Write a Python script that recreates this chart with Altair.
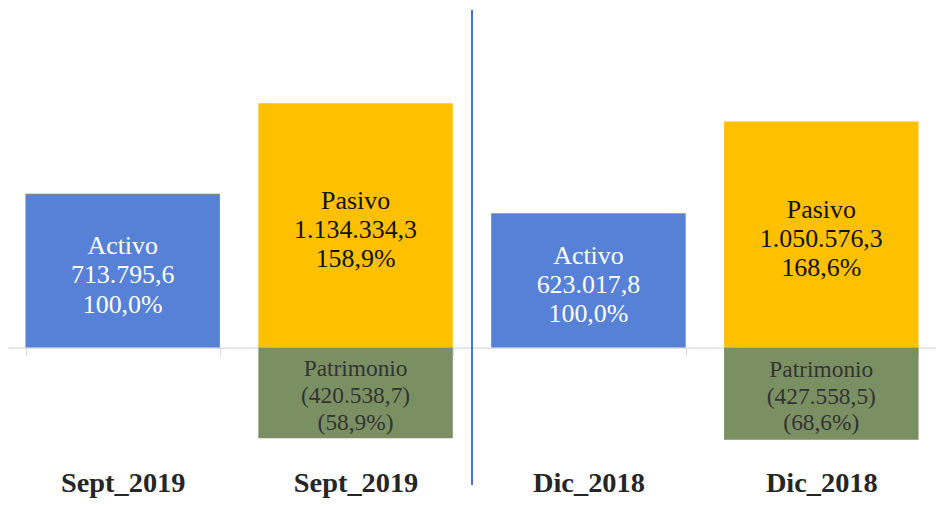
import json
import altair as alt
import pandas as pd

# ---- data ----
slot_labels = ["Sept_2019", "Sept_2019", "Dic_2018", "Dic_2018"]
slots = [0, 1, 1, 2, 3, 3]
series = ["Activo", "Pasivo", "Patrimonio", "Activo", "Pasivo", "Patrimonio"]
values = [713795.6, 1134334.3, -420538.7, 623017.8, 1050576.3, -427558.5]
pcts = [100.0, 158.9, -58.9, 100.0, 168.6, -68.6]
# thin edge seen on top of the Activo bars
edge_slots = [0, 2]
edge_values = [713795.6, 623017.8]
edge_colors = ["#c2a326", "#8f9c80"]
edge_widths = [2.5, 1.5]

series_names = ["Activo", "Pasivo", "Patrimonio"]
series_colors = ["#5781d6", "#ffc000", "#7a9062"]
text_colors = {"Activo": "#ffffff", "Pasivo": "#111111", "Patrimonio": "#333333"}


def es_num(v, dec=1):
    s = f"{abs(v):,.{dec}f}".replace(",", "X").replace(".", ",").replace("X", ".")
    return f"({s})" if v < 0 else s


rows = []
for sl, se, v, p in zip(slots, series, values, pcts):
    pct = es_num(p) + "%"
    if p < 0:
        pct = "(" + es_num(-p) + "%)"
    rows.append({
        "slot": sl,
        "serie": se,
        "valor": v,
        "mid": v / 2,
        "texto": f"{se}\n{es_num(v)}\n{pct}",
        "tcolor": text_colors[se],
    })
df = pd.DataFrame(rows)
df_edge = pd.DataFrame({"slot": edge_slots, "valor": edge_values,
                        "ecolor": edge_colors, "ew": edge_widths})

W, H = 932, 477
P_IN, P_OUT = 0.165, 0.075
step = W / (4 - P_IN + 2 * P_OUT)
bandw = step * (1 - P_IN)
k = 245.3 / 1134334.3          # px per unit (for domain only)
y_dom = [-138 / k, 339 / k]

label_expr = json.dumps(slot_labels) + "[datum.value]"

x_enc = alt.X(
    "slot:O",
    scale=alt.Scale(paddingInner=P_IN, paddingOuter=P_OUT, domain=[0, 1, 2, 3]),
    axis=alt.Axis(
        title=None, labelAngle=0, labelExpr=label_expr, offset=-138,
        domainColor="#d9d9d9", domainWidth=1.2, tickColor="#d9d9d9",
        tickSize=8, tickBand="extent", labelFont="Liberation Serif",
        labelFontSize=28.5, labelFontWeight="bold", labelColor="#262626",
        labelPadding=114, grid=False,
    ),
)
y_scale = alt.Scale(domain=y_dom, nice=False, zero=False)

base = alt.Chart(df)

bars = base.mark_bar().encode(
    x=x_enc,
    y=alt.Y("valor:Q", scale=y_scale, axis=None, stack=None),
    y2=alt.datum(0),
    color=alt.Color("serie:N", scale=alt.Scale(domain=series_names, range=series_colors), legend=None),
)

edges = alt.Chart(df_edge).mark_tick(orient="horizontal", size=bandw).encode(
    x=x_enc,
    y=alt.Y("valor:Q", scale=y_scale, axis=None),
    color=alt.Color("ecolor:N", scale=None),
    strokeWidth=alt.StrokeWidth("ew:Q", scale=None),
)

txt_big = base.transform_filter("datum.serie != 'Patrimonio'").mark_text(
    font="Liberation Serif", fontSize=26, lineBreak="\n", lineHeight=29.5,
    baseline="middle", align="center", dy=-25,
).encode(
    x=x_enc,
    y=alt.Y("mid:Q", scale=y_scale, axis=None),
    text="texto:N",
    color=alt.Color("tcolor:N", scale=None),
)

txt_small = base.transform_filter("datum.serie == 'Patrimonio'").mark_text(
    font="Liberation Serif", fontSize=23.5, lineBreak="\n", lineHeight=27,
    baseline="middle", align="center", dy=-24,
).encode(
    x=x_enc,
    y=alt.Y("mid:Q", scale=y_scale, axis=None),
    text="texto:N",
    color=alt.Color("tcolor:N", scale=None),
)

divider = alt.Chart(df).mark_rule(color="#4a74cf", strokeWidth=1.5).encode(
    x=alt.value(W / 2), y=alt.value(0), y2=alt.value(H)
)

chart = alt.layer(bars, edges, txt_big, txt_small, divider).properties(
    width=W, height=H,
    padding={"left": 0, "top": 0, "right": 0, "bottom": 0},
    background="#ffffff",
).configure_view(stroke=None, strokeWidth=0)

chart.save("out.html", embed_options={"renderer": "svg", "actions": False})
